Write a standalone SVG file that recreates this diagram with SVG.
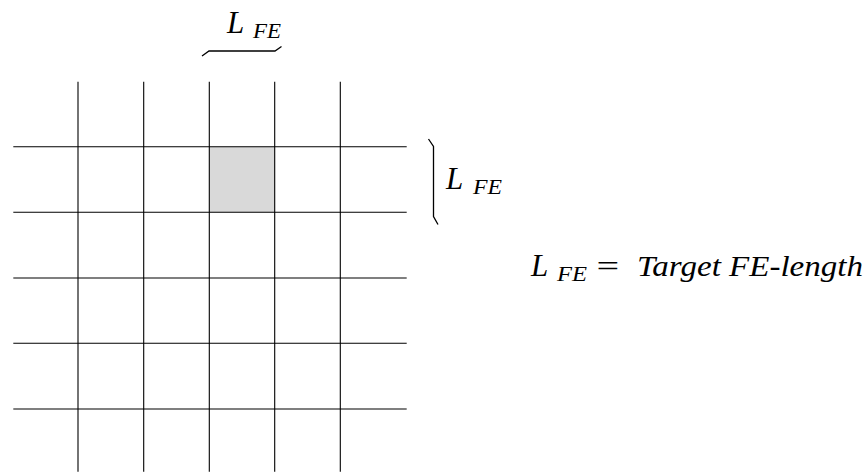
<svg xmlns="http://www.w3.org/2000/svg" width="868" height="472" viewBox="0 0 868 472">
<style>
.g{stroke:#000;stroke-width:1.1;fill:none}
.a{stroke:#000;stroke-width:1.3;fill:none;stroke-linejoin:miter}
text{font-family:'Liberation Serif','DejaVu Serif',serif;font-style:italic;fill:#000}
.L{font-size:31px}
.s{font-size:21px}
</style>
<rect id="cell" x="209.3" y="146.7" width="65.4" height="65.6" fill="#d9d9d9"/>
<g id="grid" class="g">
<line x1="78" y1="81.7" x2="78" y2="471.7"/>
<line x1="143.7" y1="81.7" x2="143.7" y2="471.7"/>
<line x1="209.3" y1="81.7" x2="209.3" y2="471.7"/>
<line x1="274.7" y1="81.7" x2="274.7" y2="471.7"/>
<line x1="340.3" y1="81.7" x2="340.3" y2="471.7"/>
<line x1="13.3" y1="146.7" x2="406.7" y2="146.7"/>
<line x1="13.3" y1="212.3" x2="406.7" y2="212.3"/>
<line x1="13.3" y1="278" x2="406.7" y2="278"/>
<line x1="13.3" y1="343.3" x2="406.7" y2="343.3"/>
<line x1="13.3" y1="409" x2="406.7" y2="409"/>
</g>
<g id="connectors" class="a">
<path d="M202,56 L209,51 L275,51 L281.5,46.5"/>
<path d="M428.5,139 L433.5,146.5 L433.5,216.5 L438,224.5"/>
</g>
<g id="label-top">
<text class="L" x="227" y="33">L</text>
<text class="s" x="253" y="38" textLength="28" lengthAdjust="spacingAndGlyphs">FE</text>
</g>
<g id="label-right">
<text class="L" x="446" y="189">L</text>
<text class="s" x="473" y="194" textLength="29" lengthAdjust="spacingAndGlyphs">FE</text>
</g>
<g id="legend">
<text class="L" x="531" y="276">L</text>
<text class="s" x="557" y="281" textLength="30" lengthAdjust="spacingAndGlyphs">FE</text>
<text x="594" y="276" font-size="30" font-style="normal" textLength="27" lengthAdjust="spacingAndGlyphs">=</text>
<text x="637" y="276" font-size="30" textLength="226" lengthAdjust="spacingAndGlyphs">Target FE-length</text>
</g>
</svg>
